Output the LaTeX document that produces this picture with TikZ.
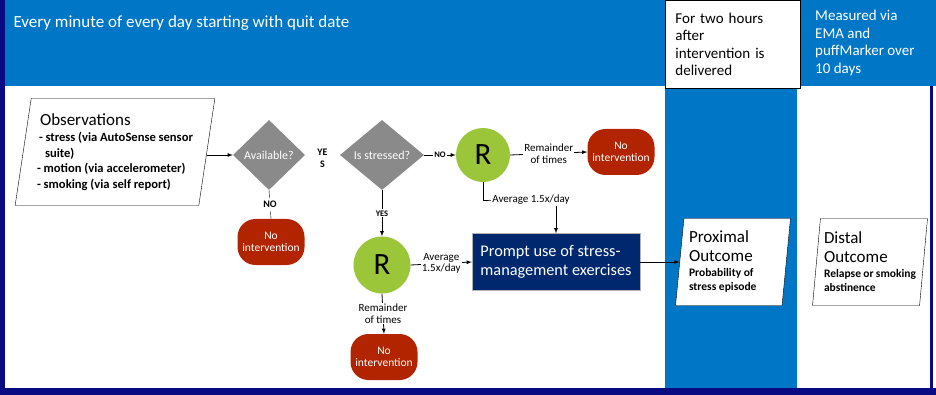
\documentclass[tikz,border=0pt]{standalone}
\usepackage{fontspec}
\setmainfont{Carlito}
\usetikzlibrary{arrows,shapes.geometric}
\definecolor{headblue}{RGB}{0,118,198}
\definecolor{framenavy}{RGB}{10,10,130}
\definecolor{promptnavy}{RGB}{0,40,110}
\definecolor{decgray}{RGB}{138,138,138}
\definecolor{randgreen}{RGB}{155,198,58}
\definecolor{nored}{RGB}{178,36,0}

\begin{document}
\begin{tikzpicture}[x=1pt,y=-1pt]
	\tikzstyle{arr} = [-latex, thick]
	\tikzstyle{decision} = [diamond, aspect=1, inner sep=0pt, fill=decgray, text=white, font=\fontsize{12}{13}\selectfont]
	\tikzstyle{rand} = [circle, fill=randgreen, inner sep=0pt, font=\fontsize{31}{32}\selectfont]
	\tikzstyle{nointv} = [rectangle, rounded corners=18pt, fill=nored, text=white, align=center, font=\fontsize{11.5}{12.5}\selectfont, minimum width=67pt, minimum height=46pt, inner sep=1pt]
	\tikzstyle{slanted} = [trapezium, trapezium stretches=true, draw, fill=white, align=left, inner sep=0pt]
	\tikzstyle{lbl} = [fill=white, inner sep=1pt, align=center, font=\fontsize{11}{11.5}\selectfont]

	% background and bands
	\useasboundingbox (0,0) rectangle (936,395);
	\fill[white] (0,0) rectangle (936,395);
	\fill[headblue] (0,0) rectangle (936,86);
	\fill[headblue] (665,86) rectangle (797,388);
	\fill[framenavy] (0,0) rectangle (5,395);
	\fill[framenavy] (0,388) rectangle (936,395);
	\fill[framenavy] (930,86) rectangle (933,395);

	% header texts
	\node[anchor=west, text=white, font=\fontsize{17}{18}\selectfont] (every) at (10,23) {Every minute of every day starting with quit date};
	\node[draw, thick, fill=white, anchor=north west, minimum width=135pt, minimum height=88pt, text width=115pt, align=left, font=\fontsize{15}{17.5}\selectfont] (twohours) at (665,0) {For two hours\\after\\intervention is\\delivered};
	\node[anchor=north west, text=white, align=left, inner sep=0pt, font=\fontsize{15}{17.5}\selectfont] (measured) at (815,10) {Measured via\\EMA and\\puffMarker over\\10 days};

	% flow nodes
	\node[slanted, trapezium left angle=79, trapezium right angle=101, minimum width=200pt, minimum height=107pt] (obs) at (115,152) {\begin{minipage}{156pt}{\fontsize{17}{20}\selectfont\hspace*{3pt}Observations\par}\vspace{1pt}
		\fontsize{12.6}{15.5}\selectfont\bfseries\hspace*{2pt}- stress (via AutoSense sensor\\\hspace*{8pt}suite)\\- motion (via accelerometer)\\- smoking (via self report)\end{minipage}};
	\node[decision, minimum width=72pt, minimum height=70pt] (avail) at (269,155) {Available?};
	\node[decision, minimum width=84pt, minimum height=70pt] (stressed) at (382,155) {Is stressed?};
	\node[rand, minimum size=54pt] (rone) at (483,155) {R};
	\node[rand, minimum size=57pt] (rtwo) at (382,265) {R};
	\node[nointv] (noa) at (271,242) {No\\intervention};
	\node[nointv] (nob) at (621,152) {No\\intervention};
	\node[nointv] (noc) at (384,357) {No\\intervention};
	\node[rectangle, fill=promptnavy, draw=gray!60, text=white, align=left, minimum width=168pt, minimum height=57pt, font=\fontsize{16.3}{19.5}\selectfont] (prompt) at (556,262) {Prompt use of stress-\\management exercises};
	\node[slanted, trapezium left angle=83, trapezium right angle=97, minimum width=115pt, minimum height=87pt] (prox) at (733,262) {\begin{minipage}{88pt}{\fontsize{17}{19}\selectfont Proximal\\Outcome\par}\vspace{1pt}
		\fontsize{11.5}{14}\selectfont\bfseries Probability of\\stress episode\end{minipage}};
	\node[slanted, trapezium left angle=83, trapezium right angle=97, minimum width=115pt, minimum height=87pt] (dist) at (870,262) {\begin{minipage}{92pt}{\fontsize{17}{19}\selectfont Distal\\Outcome\par}\vspace{1pt}
		\fontsize{11.5}{14}\selectfont\bfseries Relapse or smoking\\abstinence\end{minipage}};

	% connectors
	\draw[arr] (obs.east |- avail.west) -- (avail.west);
	\path (avail.east) -- node[lbl, font=\fontsize{10}{12}\selectfont\bfseries, yshift=-3pt] {YE\\S} (stressed.west);
	\draw (avail.south) -- node[lbl, font=\fontsize{10}{12}\selectfont\bfseries, inner sep=3pt] {NO} (noa.north);
	\draw[arr] (stressed.east) -- node[lbl, font=\fontsize{8.5}{9}\selectfont\bfseries] {NO} (rone.west);
	\draw[arr] (rone.east) -- node[lbl] {Remainder\\of times} (nob.west);
	\draw[arr] (rone.south) |- (493,200) -- (prompt.north |- 0,200) node[pos=0, right=-2pt, lbl] {Average 1.5x/day} -- (prompt.north);
	\draw[arr] (stressed.south) -- node[lbl, font=\fontsize{8.5}{9}\selectfont\bfseries] {YES} (rtwo.north);
	\draw[arr] (rtwo.east) -- node[lbl] {Average\\1.5x/day} (prompt.west);
	\draw[arr] (rtwo.south) -- node[lbl] {Remainder\\of times} (noc.north);
	\draw[arr] (prompt.east) -- (prox.west |- prompt.east);
\end{tikzpicture}
\end{document}
